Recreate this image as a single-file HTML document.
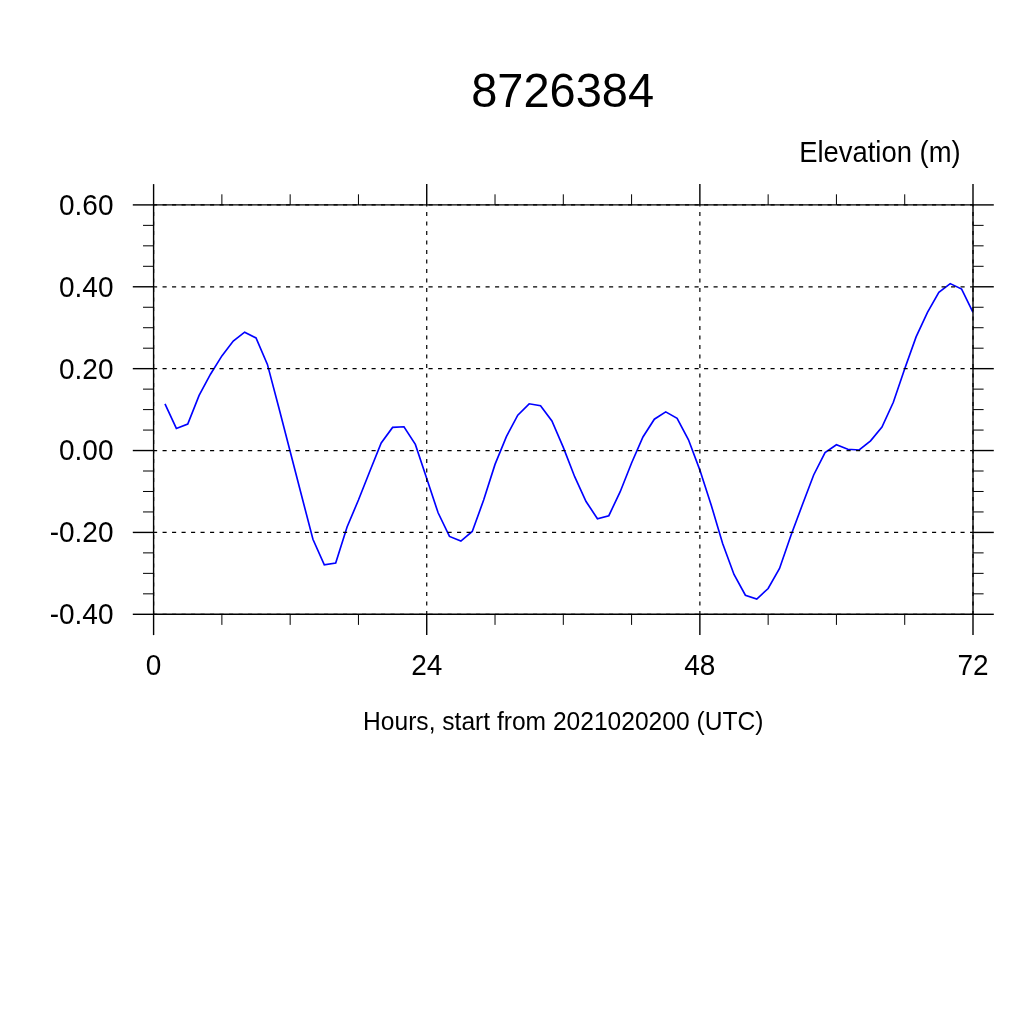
<!DOCTYPE html>
<html><head><meta charset="utf-8"><style>html,body{margin:0;padding:0;background:#fff;width:1024px;height:1024px;overflow:hidden}svg{display:block;will-change:transform}</style></head>
<body><svg width="1024" height="1024" viewBox="0 0 1024 1024">
<rect width="1024" height="1024" fill="#fff"/>
<polyline points="164.98,403.80 176.36,428.40 187.74,424.00 199.12,395.40 210.50,374.20 221.88,355.90 233.26,341.00 244.64,332.20 256.02,337.90 267.41,364.40 278.79,407.50 290.17,451.50 301.55,495.50 312.93,539.30 324.31,564.90 335.69,563.00 347.07,527.00 358.45,500.00 369.83,471.20 381.21,442.90 392.59,427.40 403.97,426.80 415.35,444.40 426.73,478.60 438.11,512.80 449.49,536.40 460.88,541.10 472.26,531.50 483.64,500.10 495.02,464.40 506.40,436.60 517.78,415.20 529.16,403.80 540.54,405.80 551.92,421.00 563.30,447.40 574.68,476.70 586.06,501.50 597.44,518.70 608.82,515.70 620.20,491.70 631.58,463.00 642.96,437.00 654.34,419.20 665.73,411.90 677.11,418.30 688.49,439.80 699.87,470.10 711.25,505.20 722.63,543.50 734.01,574.50 745.39,595.20 756.77,599.00 768.15,588.50 779.53,568.50 790.91,535.50 802.29,505.00 813.67,475.00 825.05,452.60 836.43,444.80 847.81,449.20 859.19,450.00 870.57,440.80 881.96,427.10 893.34,402.30 904.72,368.80 916.10,336.90 927.48,312.30 938.86,292.40 950.24,283.60 961.62,289.10 973.00,312.30" fill="none" stroke="#0000ff" stroke-width="1.65" stroke-linejoin="miter"/>
<path d="M153.6,204.9 H973.0 V614.3 H153.6 Z" fill="none" stroke="#000" stroke-width="1.4"/>
<line x1="153.05" y1="204.90" x2="973.0" y2="204.90" stroke="#000" stroke-width="1.2" stroke-dasharray="4.1 5.4"/>
<line x1="153.05" y1="286.78" x2="973.0" y2="286.78" stroke="#000" stroke-width="1.2" stroke-dasharray="4.1 5.4"/>
<line x1="153.05" y1="368.66" x2="973.0" y2="368.66" stroke="#000" stroke-width="1.2" stroke-dasharray="4.1 5.4"/>
<line x1="153.05" y1="450.54" x2="973.0" y2="450.54" stroke="#000" stroke-width="1.2" stroke-dasharray="4.1 5.4"/>
<line x1="153.05" y1="532.42" x2="973.0" y2="532.42" stroke="#000" stroke-width="1.2" stroke-dasharray="4.1 5.4"/>
<line x1="153.05" y1="614.30" x2="973.0" y2="614.30" stroke="#000" stroke-width="1.2" stroke-dasharray="4.1 5.4"/>
<line x1="153.60" y1="615.05" x2="153.60" y2="204.9" stroke="#000" stroke-width="1.2" stroke-dasharray="4.1 5.4"/>
<line x1="426.73" y1="615.05" x2="426.73" y2="204.9" stroke="#000" stroke-width="1.2" stroke-dasharray="4.1 5.4"/>
<line x1="699.87" y1="615.05" x2="699.87" y2="204.9" stroke="#000" stroke-width="1.2" stroke-dasharray="4.1 5.4"/>
<line x1="973.00" y1="615.05" x2="973.00" y2="204.9" stroke="#000" stroke-width="1.2" stroke-dasharray="4.1 5.4"/>
<line x1="132.80" y1="204.90" x2="153.6" y2="204.90" stroke="#000" stroke-width="1.4"/>
<line x1="973.0" y1="204.90" x2="993.80" y2="204.90" stroke="#000" stroke-width="1.4"/>
<line x1="132.80" y1="286.78" x2="153.6" y2="286.78" stroke="#000" stroke-width="1.4"/>
<line x1="973.0" y1="286.78" x2="993.80" y2="286.78" stroke="#000" stroke-width="1.4"/>
<line x1="132.80" y1="368.66" x2="153.6" y2="368.66" stroke="#000" stroke-width="1.4"/>
<line x1="973.0" y1="368.66" x2="993.80" y2="368.66" stroke="#000" stroke-width="1.4"/>
<line x1="132.80" y1="450.54" x2="153.6" y2="450.54" stroke="#000" stroke-width="1.4"/>
<line x1="973.0" y1="450.54" x2="993.80" y2="450.54" stroke="#000" stroke-width="1.4"/>
<line x1="132.80" y1="532.42" x2="153.6" y2="532.42" stroke="#000" stroke-width="1.4"/>
<line x1="973.0" y1="532.42" x2="993.80" y2="532.42" stroke="#000" stroke-width="1.4"/>
<line x1="132.80" y1="614.30" x2="153.6" y2="614.30" stroke="#000" stroke-width="1.4"/>
<line x1="973.0" y1="614.30" x2="993.80" y2="614.30" stroke="#000" stroke-width="1.4"/>
<line x1="143.00" y1="225.37" x2="153.6" y2="225.37" stroke="#000" stroke-width="1"/>
<line x1="973.0" y1="225.37" x2="983.60" y2="225.37" stroke="#000" stroke-width="1"/>
<line x1="143.00" y1="245.84" x2="153.6" y2="245.84" stroke="#000" stroke-width="1"/>
<line x1="973.0" y1="245.84" x2="983.60" y2="245.84" stroke="#000" stroke-width="1"/>
<line x1="143.00" y1="266.31" x2="153.6" y2="266.31" stroke="#000" stroke-width="1"/>
<line x1="973.0" y1="266.31" x2="983.60" y2="266.31" stroke="#000" stroke-width="1"/>
<line x1="143.00" y1="307.25" x2="153.6" y2="307.25" stroke="#000" stroke-width="1"/>
<line x1="973.0" y1="307.25" x2="983.60" y2="307.25" stroke="#000" stroke-width="1"/>
<line x1="143.00" y1="327.72" x2="153.6" y2="327.72" stroke="#000" stroke-width="1"/>
<line x1="973.0" y1="327.72" x2="983.60" y2="327.72" stroke="#000" stroke-width="1"/>
<line x1="143.00" y1="348.19" x2="153.6" y2="348.19" stroke="#000" stroke-width="1"/>
<line x1="973.0" y1="348.19" x2="983.60" y2="348.19" stroke="#000" stroke-width="1"/>
<line x1="143.00" y1="389.13" x2="153.6" y2="389.13" stroke="#000" stroke-width="1"/>
<line x1="973.0" y1="389.13" x2="983.60" y2="389.13" stroke="#000" stroke-width="1"/>
<line x1="143.00" y1="409.60" x2="153.6" y2="409.60" stroke="#000" stroke-width="1"/>
<line x1="973.0" y1="409.60" x2="983.60" y2="409.60" stroke="#000" stroke-width="1"/>
<line x1="143.00" y1="430.07" x2="153.6" y2="430.07" stroke="#000" stroke-width="1"/>
<line x1="973.0" y1="430.07" x2="983.60" y2="430.07" stroke="#000" stroke-width="1"/>
<line x1="143.00" y1="471.01" x2="153.6" y2="471.01" stroke="#000" stroke-width="1"/>
<line x1="973.0" y1="471.01" x2="983.60" y2="471.01" stroke="#000" stroke-width="1"/>
<line x1="143.00" y1="491.48" x2="153.6" y2="491.48" stroke="#000" stroke-width="1"/>
<line x1="973.0" y1="491.48" x2="983.60" y2="491.48" stroke="#000" stroke-width="1"/>
<line x1="143.00" y1="511.95" x2="153.6" y2="511.95" stroke="#000" stroke-width="1"/>
<line x1="973.0" y1="511.95" x2="983.60" y2="511.95" stroke="#000" stroke-width="1"/>
<line x1="143.00" y1="552.89" x2="153.6" y2="552.89" stroke="#000" stroke-width="1"/>
<line x1="973.0" y1="552.89" x2="983.60" y2="552.89" stroke="#000" stroke-width="1"/>
<line x1="143.00" y1="573.36" x2="153.6" y2="573.36" stroke="#000" stroke-width="1"/>
<line x1="973.0" y1="573.36" x2="983.60" y2="573.36" stroke="#000" stroke-width="1"/>
<line x1="143.00" y1="593.83" x2="153.6" y2="593.83" stroke="#000" stroke-width="1"/>
<line x1="973.0" y1="593.83" x2="983.60" y2="593.83" stroke="#000" stroke-width="1"/>
<line x1="153.60" y1="184.10" x2="153.60" y2="204.9" stroke="#000" stroke-width="1.4"/>
<line x1="153.60" y1="614.3" x2="153.60" y2="635.10" stroke="#000" stroke-width="1.4"/>
<line x1="426.73" y1="184.10" x2="426.73" y2="204.9" stroke="#000" stroke-width="1.4"/>
<line x1="426.73" y1="614.3" x2="426.73" y2="635.10" stroke="#000" stroke-width="1.4"/>
<line x1="699.87" y1="184.10" x2="699.87" y2="204.9" stroke="#000" stroke-width="1.4"/>
<line x1="699.87" y1="614.3" x2="699.87" y2="635.10" stroke="#000" stroke-width="1.4"/>
<line x1="973.00" y1="184.10" x2="973.00" y2="204.9" stroke="#000" stroke-width="1.4"/>
<line x1="973.00" y1="614.3" x2="973.00" y2="635.10" stroke="#000" stroke-width="1.4"/>
<line x1="221.88" y1="194.30" x2="221.88" y2="204.9" stroke="#000" stroke-width="1"/>
<line x1="221.88" y1="614.3" x2="221.88" y2="624.90" stroke="#000" stroke-width="1"/>
<line x1="290.17" y1="194.30" x2="290.17" y2="204.9" stroke="#000" stroke-width="1"/>
<line x1="290.17" y1="614.3" x2="290.17" y2="624.90" stroke="#000" stroke-width="1"/>
<line x1="358.45" y1="194.30" x2="358.45" y2="204.9" stroke="#000" stroke-width="1"/>
<line x1="358.45" y1="614.3" x2="358.45" y2="624.90" stroke="#000" stroke-width="1"/>
<line x1="495.02" y1="194.30" x2="495.02" y2="204.9" stroke="#000" stroke-width="1"/>
<line x1="495.02" y1="614.3" x2="495.02" y2="624.90" stroke="#000" stroke-width="1"/>
<line x1="563.30" y1="194.30" x2="563.30" y2="204.9" stroke="#000" stroke-width="1"/>
<line x1="563.30" y1="614.3" x2="563.30" y2="624.90" stroke="#000" stroke-width="1"/>
<line x1="631.58" y1="194.30" x2="631.58" y2="204.9" stroke="#000" stroke-width="1"/>
<line x1="631.58" y1="614.3" x2="631.58" y2="624.90" stroke="#000" stroke-width="1"/>
<line x1="768.15" y1="194.30" x2="768.15" y2="204.9" stroke="#000" stroke-width="1"/>
<line x1="768.15" y1="614.3" x2="768.15" y2="624.90" stroke="#000" stroke-width="1"/>
<line x1="836.43" y1="194.30" x2="836.43" y2="204.9" stroke="#000" stroke-width="1"/>
<line x1="836.43" y1="614.3" x2="836.43" y2="624.90" stroke="#000" stroke-width="1"/>
<line x1="904.72" y1="194.30" x2="904.72" y2="204.9" stroke="#000" stroke-width="1"/>
<line x1="904.72" y1="614.3" x2="904.72" y2="624.90" stroke="#000" stroke-width="1"/>
<text transform="translate(562.6,106.8) scale(1.0,1.015)" font-family="Liberation Sans, sans-serif" font-size="47" text-anchor="middle">8726384</text>
<text transform="translate(960.6,162.1) scale(0.979,1.045)" font-family="Liberation Sans, sans-serif" font-size="28" text-anchor="end">Elevation (m)</text>
<text transform="translate(113.5,214.80) scale(1,1.07)" font-family="Liberation Sans, sans-serif" font-size="28" text-anchor="end">0.60</text>
<text transform="translate(113.5,296.68) scale(1,1.07)" font-family="Liberation Sans, sans-serif" font-size="28" text-anchor="end">0.40</text>
<text transform="translate(113.5,378.56) scale(1,1.07)" font-family="Liberation Sans, sans-serif" font-size="28" text-anchor="end">0.20</text>
<text transform="translate(113.5,460.44) scale(1,1.07)" font-family="Liberation Sans, sans-serif" font-size="28" text-anchor="end">0.00</text>
<text transform="translate(113.5,542.32) scale(1,1.07)" font-family="Liberation Sans, sans-serif" font-size="28" text-anchor="end">-0.20</text>
<text transform="translate(113.5,624.20) scale(1,1.07)" font-family="Liberation Sans, sans-serif" font-size="28" text-anchor="end">-0.40</text>
<text transform="translate(153.60,675.1) scale(1,1.04)" font-family="Liberation Sans, sans-serif" font-size="28" text-anchor="middle">0</text>
<text transform="translate(426.73,675.1) scale(1,1.04)" font-family="Liberation Sans, sans-serif" font-size="28" text-anchor="middle">24</text>
<text transform="translate(699.87,675.1) scale(1,1.04)" font-family="Liberation Sans, sans-serif" font-size="28" text-anchor="middle">48</text>
<text transform="translate(973.00,675.1) scale(1,1.04)" font-family="Liberation Sans, sans-serif" font-size="28" text-anchor="middle">72</text>
<text transform="translate(563.2,730.0) scale(1,1.055)" font-family="Liberation Sans, sans-serif" font-size="24.6" text-anchor="middle">Hours, start from 2021020200 (UTC)</text>
</svg></body></html>
